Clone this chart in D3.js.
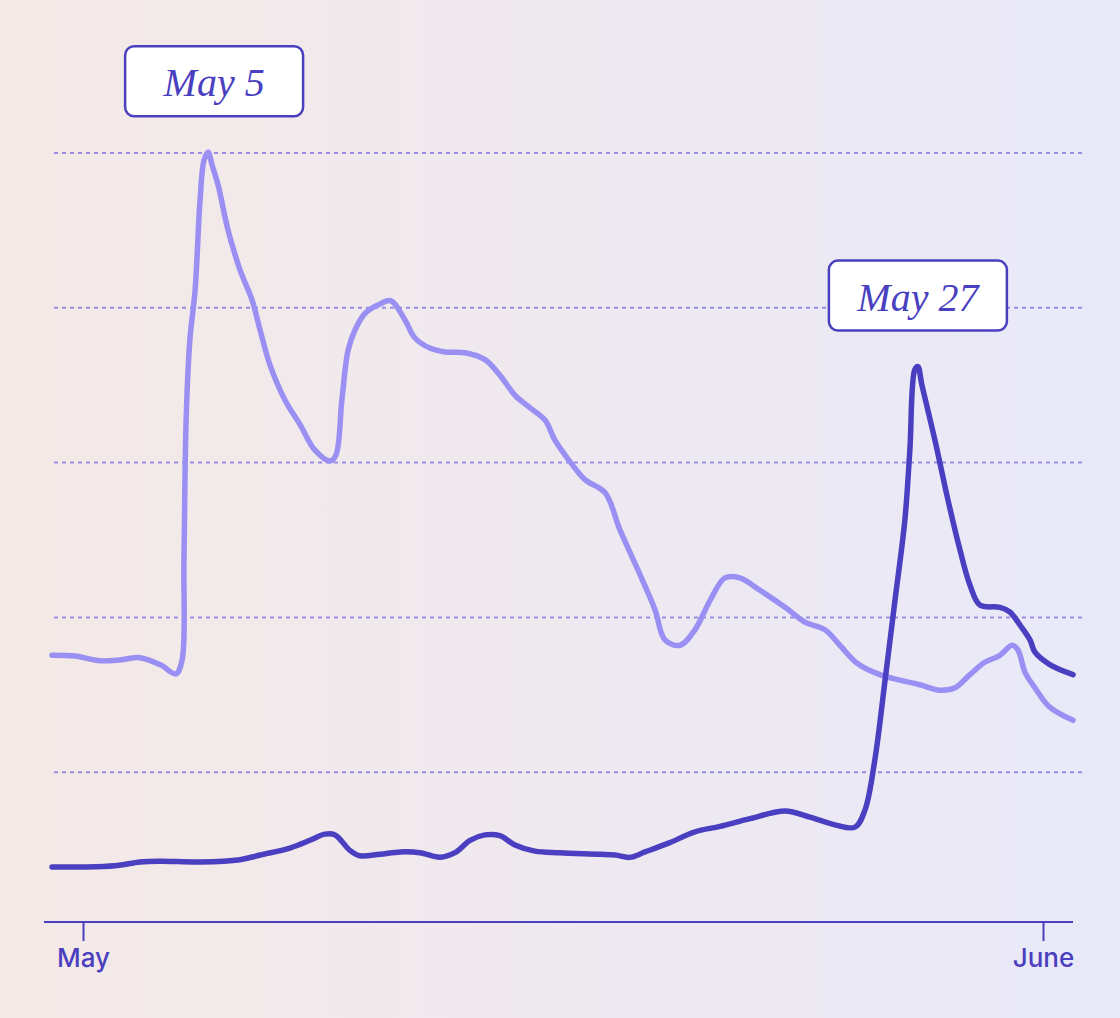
<!DOCTYPE html>
<html>
<head>
<meta charset="utf-8">
<script src="https://cdn.jsdelivr.net/npm/d3@7"></script>
<style>
  html, body { margin: 0; padding: 0; }
  body { width: 1120px; height: 1018px; overflow: hidden; }
  .tickLabel { font-family: Inter, "Noto Sans", sans-serif; font-weight: 500; font-size: 26px; fill: #4a3fbf; }
  .noteText { font-family: "Liberation Serif", "DejaVu Serif", serif; font-style: italic; font-size: 40px; fill: #4a3fbf; }
</style>
</head>
<body>
<div id="chart"></div>
<script>
// Line chart: two series, May to June

// Data (day of May, June 1 = 32)
var lightDays = [0.0, 0.74, 1.55, 2.19, 2.84, 3.49, 4.0, 4.2, 4.26, 4.33, 4.45, 4.62, 4.78, 4.91, 5.04, 5.17, 5.36, 5.68, 6.07, 6.46, 6.72, 7.04, 7.52, 8.01, 8.49, 8.98, 9.17, 9.36, 9.56, 9.78, 10.11, 10.59, 10.95, 11.4, 11.72, 12.2, 12.69, 13.33, 13.98, 14.46, 14.95, 15.43, 15.92, 16.24, 16.73, 17.21, 17.86, 18.34, 18.99, 19.47, 19.79, 20.28, 20.76, 21.25, 21.73, 22.21, 22.86, 23.67, 24.31, 24.96, 25.44, 26.02, 26.73, 27.38, 28.03, 28.67, 29.16, 29.64, 30.12, 30.61, 31.0, 31.19, 31.42, 31.74, 32.22, 32.97];
var lightValues = [35.1, 35.0, 34.4, 34.5, 34.8, 33.9, 32.7, 34.5, 47.4, 65.5, 75.8, 82.3, 93.9, 99.1, 100.1, 98.4, 95.9, 90.1, 84.9, 81.0, 77.1, 72.6, 68.1, 64.9, 61.6, 60.2, 61.0, 68.1, 74.5, 77.1, 79.3, 80.5, 80.9, 78.4, 76.1, 74.8, 74.3, 74.2, 73.3, 71.3, 68.7, 67.1, 65.5, 62.9, 60.1, 57.8, 56.1, 51.3, 45.5, 41.0, 37.1, 36.4, 38.4, 42.2, 45.1, 45.1, 43.5, 41.3, 39.4, 38.4, 36.4, 34.0, 32.6, 31.9, 31.3, 30.6, 30.9, 32.6, 34.2, 35.1, 36.4, 35.8, 32.9, 30.9, 28.4, 26.7];

var darkDays = [0.0, 0.9, 2.03, 2.84, 3.49, 4.78, 6.07, 6.72, 7.68, 8.33, 8.81, 9.14, 9.62, 9.94, 10.59, 11.24, 11.88, 12.53, 13.01, 13.5, 13.98, 14.46, 14.95, 15.59, 16.4, 17.69, 18.18, 18.66, 19.15, 19.95, 20.76, 21.57, 22.54, 23.67, 24.47, 25.28, 25.93, 26.25, 26.57, 26.9, 27.22, 27.54, 27.7, 27.86, 27.96, 28.09, 28.51, 28.93, 29.32, 29.64, 29.96, 30.61, 30.93, 31.26, 31.58, 31.74, 32.22, 32.97];
var darkValues = [7.75, 7.75, 7.9, 8.4, 8.5, 8.4, 8.7, 9.3, 10.2, 11.2, 12.0, 11.9, 9.9, 9.2, 9.4, 9.7, 9.6, 9.0, 9.6, 11.2, 11.9, 11.8, 10.6, 9.8, 9.6, 9.4, 9.3, 9.0, 9.7, 10.9, 12.3, 13.0, 14.0, 15.0, 14.2, 13.2, 12.9, 15.1, 21.6, 31.9, 42.2, 52.6, 61.6, 72.0, 72.4, 70.0, 62.9, 55.2, 48.7, 44.2, 41.6, 41.3, 40.7, 39.0, 37.1, 35.5, 33.9, 32.6];

// Axis ticks
var xTickValues = [1, 32];
var xTickLabels = ["May", "June"];
var gridValues = [20, 40, 60, 80, 100];

// Annotations
var noteLabels = ["May 5", "May 27"];

// Section: layout
var width = 1120;
var height = 1018;
var axisY = 922;

var svg = d3
  .select("#chart")
  .append("svg")
  .attr("width", width)
  .attr("height", height);

// Background gradient
var defs = svg.append("defs");
var grad = defs
  .append("linearGradient")
  .attr("id", "bg")
  .attr("x1", "0%")
  .attr("y1", "0%")
  .attr("x2", "100%")
  .attr("y2", "0%");
grad.append("stop").attr("offset", "0%").attr("stop-color", "#f4e9e6");
grad.append("stop").attr("offset", "100%").attr("stop-color", "#e9e9f9");

svg
  .append("rect")
  .attr("width", width)
  .attr("height", height)
  .attr("fill", "url(#bg)");

// Scales
var xScale = d3.scaleLinear().domain([1, 32]).range([83, 1043]);
var yScale = d3.scaleLinear().domain([0, 100]).range([927, 153]);

// Grid lines
svg
  .append("g")
  .attr("class", "grid")
  .selectAll("line")
  .data(gridValues)
  .enter()
  .append("line")
  .attr("x1", 54)
  .attr("x2", 1085)
  .attr("y1", function(d) { return yScale(d); })
  .attr("y2", function(d) { return yScale(d); })
  .attr("stroke", "#998de2")
  .attr("stroke-width", 2)
  .attr("stroke-dasharray", "4,4");

// X axis
var xAxis = d3
  .axisBottom(xScale)
  .tickValues(xTickValues)
  .tickFormat(function(d, i) { return xTickLabels[i]; })
  .tickSize(19)
  .tickSizeOuter(0)
  .tickPadding(8);

var xAxisG = svg
  .append("g")
  .attr("class", "xAxis")
  .attr("transform", "translate(0," + axisY + ")")
  .call(xAxis);

xAxisG.select(".domain").remove();
xAxisG
  .append("line")
  .attr("x1", 44)
  .attr("x2", 1073)
  .attr("stroke", "#4a3fbf")
  .attr("stroke-width", 2);
xAxisG.selectAll(".tick line").attr("stroke", "#4a3fbf").attr("stroke-width", 2);
xAxisG
  .selectAll(".tick text")
  .attr("class", "tickLabel")
  .attr("fill", null)
  .attr("font-family", null)
  .attr("font-size", null);

// Lines
var line = d3
  .line()
  .x(function(d) { return xScale(d[0]); })
  .y(function(d) { return yScale(d[1]); })
  .curve(d3.curveCatmullRom.alpha(0.5));

var lightData = d3.zip(lightDays, lightValues);
var darkData = d3.zip(darkDays, darkValues);

svg
  .append("path")
  .datum(lightData)
  .attr("d", line)
  .attr("fill", "none")
  .attr("stroke", "#9a8ff2")
  .attr("stroke-width", 5.5)
  .attr("stroke-linecap", "round")
  .attr("stroke-linejoin", "round");

svg
  .append("path")
  .datum(darkData)
  .attr("d", line)
  .attr("fill", "none")
  .attr("stroke", "#4a3fc0")
  .attr("stroke-width", 5.5)
  .attr("stroke-linecap", "round")
  .attr("stroke-linejoin", "round");

// Annotation boxes above each peak
var peaks = [
  lightData[d3.maxIndex(lightData, function(d) { return d[1]; })],
  darkData[d3.maxIndex(darkData, function(d) { return d[1]; })]
];
var boxW = 178;
var boxH = 70;
var boxGap = 36;

var notes = svg
  .selectAll("g.note")
  .data(peaks)
  .enter()
  .append("g")
  .attr("class", "note")
  .attr("transform", function(d, i) {
    var cx = xScale(d[0]) + (i === 0 ? 6 : 0);
    return "translate(" + cx + "," + (yScale(d[1]) - boxGap - boxH) + ")";
  });

notes
  .append("rect")
  .attr("x", -boxW / 2)
  .attr("y", 0)
  .attr("width", boxW)
  .attr("height", boxH)
  .attr("rx", 9)
  .attr("fill", "#ffffff")
  .attr("stroke", "#4a3fbf")
  .attr("stroke-width", 2.5);

notes
  .append("text")
  .attr("class", "noteText")
  .attr("x", 0)
  .attr("y", 50)
  .attr("text-anchor", "middle")
  .text(function(d, i) { return noteLabels[i]; });
</script>
</body>
</html>
